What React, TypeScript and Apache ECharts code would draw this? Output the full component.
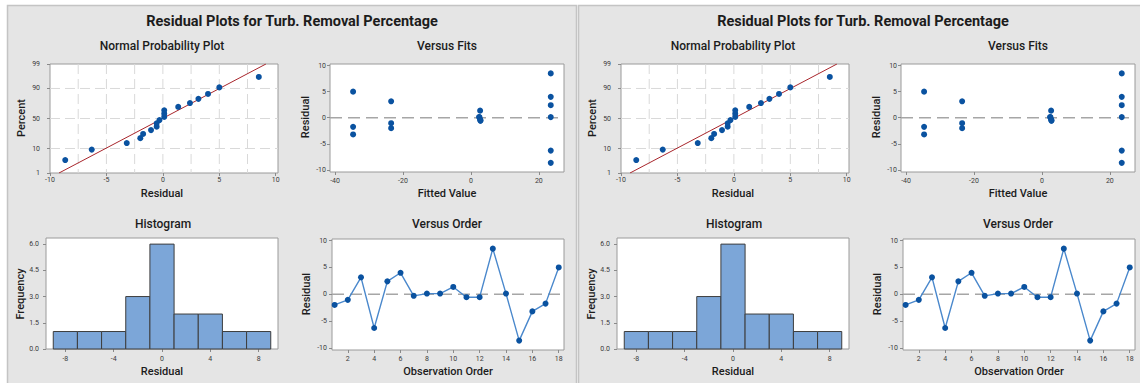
import React, { useEffect, useRef } from "react";
import * as echarts from "echarts";

// ---------- data ----------
const observationOrder = [1, 2, 3, 4, 5, 6, 7, 8, 9, 10, 11, 12, 13, 14, 15, 16, 17, 18];
const residuals = [-2.0, -1.05, 3.15, -6.3, 2.4, 4.0, -0.3, 0.12, 0.12, 1.36, -0.55, -0.55, 8.5, 0.12, -8.65, -3.2, -1.75, 5.0];
const fittedValues = [-23.5, -23.5, -23.5, 23.5, 23.5, 23.5, 2.7, 2.4, 2.5, 2.7, 2.8, 2.8, 23.5, 23.5, 23.5, -34.7, -34.7, -34.7];
const probabilityPercents = [3.8, 9.2, 14.7, 20.1, 25.5, 31.0, 36.4, 41.8, 47.3, 52.7, 58.2, 63.6, 69.0, 74.5, 79.9, 85.3, 90.8, 96.2];
const fitLineResidual = [-9.2, 9.13];
const fitLinePercent = [1, 99];
const histBinStart = [-9, -7, -5, -3, -1, 1, 3, 5, 7];
const histBinEnd = [-7, -5, -3, -1, 1, 3, 5, 7, 9];
const histCounts = [1, 1, 1, 3, 6, 2, 2, 1, 1];

// ---------- tick labels ----------
const nppPercentTicks = [1, 10, 50, 90, 99];
const nppResidualTicks = [-10, -5, 0, 5, 10];
const nppGridResidual = [-7.5, -5, -2.5, 0, 2.5, 5, 7.5];
const nppGridPercent = [10, 50, 90];
const fitsTicks = [-40, -20, 0, 20];
const residualTicks = [-10, -5, 0, 5, 10];
const histXTicks = [-8, -4, 0, 4, 8];
const freqTicks = [0, 1.5, 3, 4.5, 6];
const orderTicks = [2, 4, 6, 8, 10, 12, 14, 16, 18];

// inverse normal CDF (normal probability scale)
function probit(p: number): number {
  const a = [-3.969683028665376e1, 2.209460984245205e2, -2.759285104469687e2, 1.38357751867269e2, -3.066479806614716e1, 2.506628277459239];
  const b = [-5.447609879822406e1, 1.615858368580409e2, -1.556989798598866e2, 6.680131188771972e1, -1.328068155288572e1];
  const c = [-7.784894002430293e-3, -3.223964580411365e-1, -2.400758277161838, -2.549732539343734, 4.374664141464968, 2.938163982698783];
  const d = [7.784695709041462e-3, 3.224671290700398e-1, 2.445134137142996, 3.754408661907416];
  const pl = 0.02425;
  if (p < pl) {
    const q = Math.sqrt(-2 * Math.log(p));
    return (((((c[0] * q + c[1]) * q + c[2]) * q + c[3]) * q + c[4]) * q + c[5]) / ((((d[0] * q + d[1]) * q + d[2]) * q + d[3]) * q + 1);
  }
  if (p <= 1 - pl) {
    const q = p - 0.5;
    const r = q * q;
    return ((((((a[0] * r + a[1]) * r + a[2]) * r + a[3]) * r + a[4]) * r + a[5]) * q) / (((((b[0] * r + b[1]) * r + b[2]) * r + b[3]) * r + b[4]) * r + 1);
  }
  const q = Math.sqrt(-2 * Math.log(1 - p));
  return -(((((c[0] * q + c[1]) * q + c[2]) * q + c[3]) * q + c[4]) * q + c[5]) / ((((d[0] * q + d[1]) * q + d[2]) * q + d[3]) * q + 1);
}
const pz = (pct: number) => probit(pct / 100);

const FONT = "Roboto, 'Noto Sans', sans-serif";
const DOT = "#0a52a0";
const LINE_BLUE = "#4a88cc";
const LABEL_COLOR = "#3a3a3a";
const TITLE = "Residual Plots for Turb. Removal Percentage";

function hLines(idx: number, xMin: number, values: number[], color: string, dash: number[], width: number) {
  return {
    type: "custom",
    xAxisIndex: idx,
    yAxisIndex: idx,
    silent: true,
    z: 1,
    clip: true,
    data: values.map((v) => [xMin, v]),
    encode: { x: 0, y: 1 },
    renderItem: (params: any, api: any) => {
      const cs = params.coordSys;
      const y = api.coord([api.value(0), api.value(1)])[1];
      return {
        type: "line",
        shape: { x1: cs.x, y1: y, x2: cs.x + cs.width, y2: y },
        style: { stroke: color, lineWidth: width, lineDash: dash },
      };
    },
  };
}

function vLines(idx: number, yMin: number, values: number[], color: string, dash: number[], width: number) {
  return {
    type: "custom",
    xAxisIndex: idx,
    yAxisIndex: idx,
    silent: true,
    z: 1,
    clip: true,
    data: values.map((v) => [v, yMin]),
    encode: { x: 0, y: 1 },
    renderItem: (params: any, api: any) => {
      const cs = params.coordSys;
      const x = api.coord([api.value(0), api.value(1)])[0];
      return {
        type: "line",
        shape: { x1: x, y1: cs.y, x2: x, y2: cs.y + cs.height },
        style: { stroke: color, lineWidth: width, lineDash: dash },
      };
    },
  };
}

function valueAxis(idx: number, min: number, max: number, ticks: number[], margin: number, formatter?: (v: number) => string) {
  return {
    type: "value",
    gridIndex: idx,
    min,
    max,
    axisLine: { show: false, onZero: false },
    splitLine: { show: false },
    axisTick: { show: true, length: 3, customValues: ticks, lineStyle: { color: "#8a8a8a", width: 1 } },
    axisLabel: {
      show: true,
      customValues: ticks,
      margin,
      fontSize: 7,
      fontFamily: FONT,
      color: LABEL_COLOR,
      formatter: formatter || ((v: number) => String(v)),
    },
  };
}

function text(x: number, y: number, s: string, font: string, rotate = false) {
  return {
    type: "text",
    x,
    y,
    rotation: rotate ? Math.PI / 2 : 0,
    z: 10,
    silent: true,
    style: {
      text: s,
      font,
      fill: "#1c1c1c",
      align: "center",
      verticalAlign: "middle",
      textAlign: "center",
      textVerticalAlign: "middle",
    },
  };
}

function buildPanel(p: number) {
  const o = p * 571;
  const base = p * 4;
  const iN = base, iF = base + 1, iH = base + 2, iO = base + 3;
  const zMin = pz(1), zMax = pz(99);
  const zTicks = nppPercentTicks.map(pz);
  const grid = (left: number, top: number, width: number, height: number) => ({
    left: left + o,
    top,
    width,
    height,
    show: true,
    backgroundColor: "#ffffff",
    borderColor: "#9a9a9a",
    borderWidth: 1,
    containLabel: false,
  });
  const grids = [grid(50, 64, 228, 109), grid(330, 64, 234, 108), grid(46, 238, 232, 111), grid(332, 239, 232, 111)];

  const xAxes = [
    valueAxis(iN, -10, 10.2, nppResidualTicks, 3),
    valueAxis(iF, -41.5, 27.4, fitsTicks, 5),
    valueAxis(iH, -9.6, 9.6, histXTicks, 6),
    valueAxis(iO, 0.8, 18.4, orderTicks, 5),
  ];
  const yAxes = [
    valueAxis(iN, zMin, zMax, zTicks, 10, (v: number) => {
      const i = zTicks.findIndex((z) => Math.abs(z - v) < 1e-6);
      return i >= 0 ? String(nppPercentTicks[i]) : "";
    }),
    valueAxis(iF, -10.4, 10.3, residualTicks, 4),
    valueAxis(iH, 0, 6.35, freqTicks, 7, (v: number) => v.toFixed(1)),
    valueAxis(iO, -10.4, 10.3, residualTicks, 5),
  ];

  const sorted = [...residuals].sort((a, b) => a - b);
  const gridColor = "#d9d9d9";
  const series: any[] = [
    vLines(iN, zMin, nppGridResidual, gridColor, [10, 5], 1),
    hLines(iN, -10, nppGridPercent.map(pz), gridColor, [10, 5], 1),
    {
      type: "line",
      xAxisIndex: iN,
      yAxisIndex: iN,
      data: fitLineResidual.map((r, i) => [r, pz(fitLinePercent[i])]),
      symbol: "none",
      lineStyle: { color: "#a8262c", width: 1 },
      z: 2,
      silent: true,
    },
    {
      type: "scatter",
      xAxisIndex: iN,
      yAxisIndex: iN,
      data: sorted.map((r, i) => [r, pz(probabilityPercents[i])]),
      symbol: "circle",
      symbolSize: 6,
      itemStyle: { color: DOT, opacity: 1 },
      z: 3,
    },
    hLines(iF, -41.5, [0], "#a6a6a6", [12, 6], 1.3),
    {
      type: "scatter",
      xAxisIndex: iF,
      yAxisIndex: iF,
      data: fittedValues.map((f, i) => [f, residuals[i]]),
      symbol: "circle",
      symbolSize: 6,
      itemStyle: { color: DOT, opacity: 1 },
      z: 3,
    },
    {
      type: "custom",
      xAxisIndex: iH,
      yAxisIndex: iH,
      data: histCounts.map((c, i) => [histBinStart[i], histBinEnd[i], c]),
      encode: { x: [0, 1], y: 2 },
      z: 2,
      renderItem: (params: any, api: any) => {
        const p0 = api.coord([api.value(0), api.value(2)]);
        const p1 = api.coord([api.value(1), 0]);
        return {
          type: "rect",
          shape: { x: p0[0], y: p0[1], width: p1[0] - p0[0], height: p1[1] - p0[1] },
          style: { fill: "#7ca6d8", stroke: "#3d3d3d", lineWidth: 1 },
        };
      },
    },
    hLines(iO, 0.8, [0], "#a6a6a6", [12, 6], 1.3),
    {
      type: "line",
      xAxisIndex: iO,
      yAxisIndex: iO,
      data: observationOrder.map((n, i) => [n, residuals[i]]),
      symbol: "circle",
      symbolSize: 6,
      showSymbol: true,
      itemStyle: { color: DOT, opacity: 1 },
      lineStyle: { color: LINE_BLUE, width: 1.4 },
      z: 3,
    },
  ];

  const tFont = `bold 14.5px ${FONT}`;
  const sFont = `500 12px ${FONT}`;
  const aFont = `500 11px ${FONT}`;
  const graphics = [
    {
      type: "rect",
      z: -5,
      silent: true,
      shape: { x: 7.5 + o, y: 5.5, width: 569, height: 400 },
      style: { fill: "#e5e5e5", stroke: "#c4c4c4", lineWidth: 1.5 },
    },
    text(292 + o, 21, TITLE, tFont),
    text(162 + o, 46, "Normal Probability Plot", sFont),
    text(447 + o, 46, "Versus Fits", sFont),
    text(163 + o, 224, "Histogram", sFont),
    text(447 + o, 224, "Versus Order", sFont),
    text(162 + o, 193, "Residual", aFont),
    text(447 + o, 193, "Fitted Value", aFont),
    text(162 + o, 371, "Residual", aFont),
    text(448 + o, 371, "Observation Order", aFont),
    text(21.5 + o, 118, "Percent", aFont, true),
    text(305 + o, 117, "Residual", aFont, true),
    text(20 + o, 294, "Frequency", aFont, true),
    text(306 + o, 294, "Residual", aFont, true),
  ];
  return { grids, xAxes, yAxes, series, graphics };
}

export default function App() {
  const ref = useRef<HTMLDivElement>(null);
  useEffect(() => {
    if (!ref.current) return;
    const chart = echarts.init(ref.current, undefined, { renderer: "svg" });
    const panels = [buildPanel(0), buildPanel(1)];
    chart.setOption({
      animation: false,
      backgroundColor: "#ffffff",
      textStyle: { fontFamily: FONT },
      grid: panels.flatMap((p) => p.grids),
      xAxis: panels.flatMap((p) => p.xAxes),
      yAxis: panels.flatMap((p) => p.yAxes),
      series: panels.flatMap((p) => p.series),
      graphic: { elements: panels.flatMap((p) => p.graphics) },
    });
    return () => chart.dispose();
  }, []);
  return (
    <div
      ref={ref}
      style={{ position: "absolute", left: 0, top: 0, width: 1140, height: 383 }}
    />
  );
}
